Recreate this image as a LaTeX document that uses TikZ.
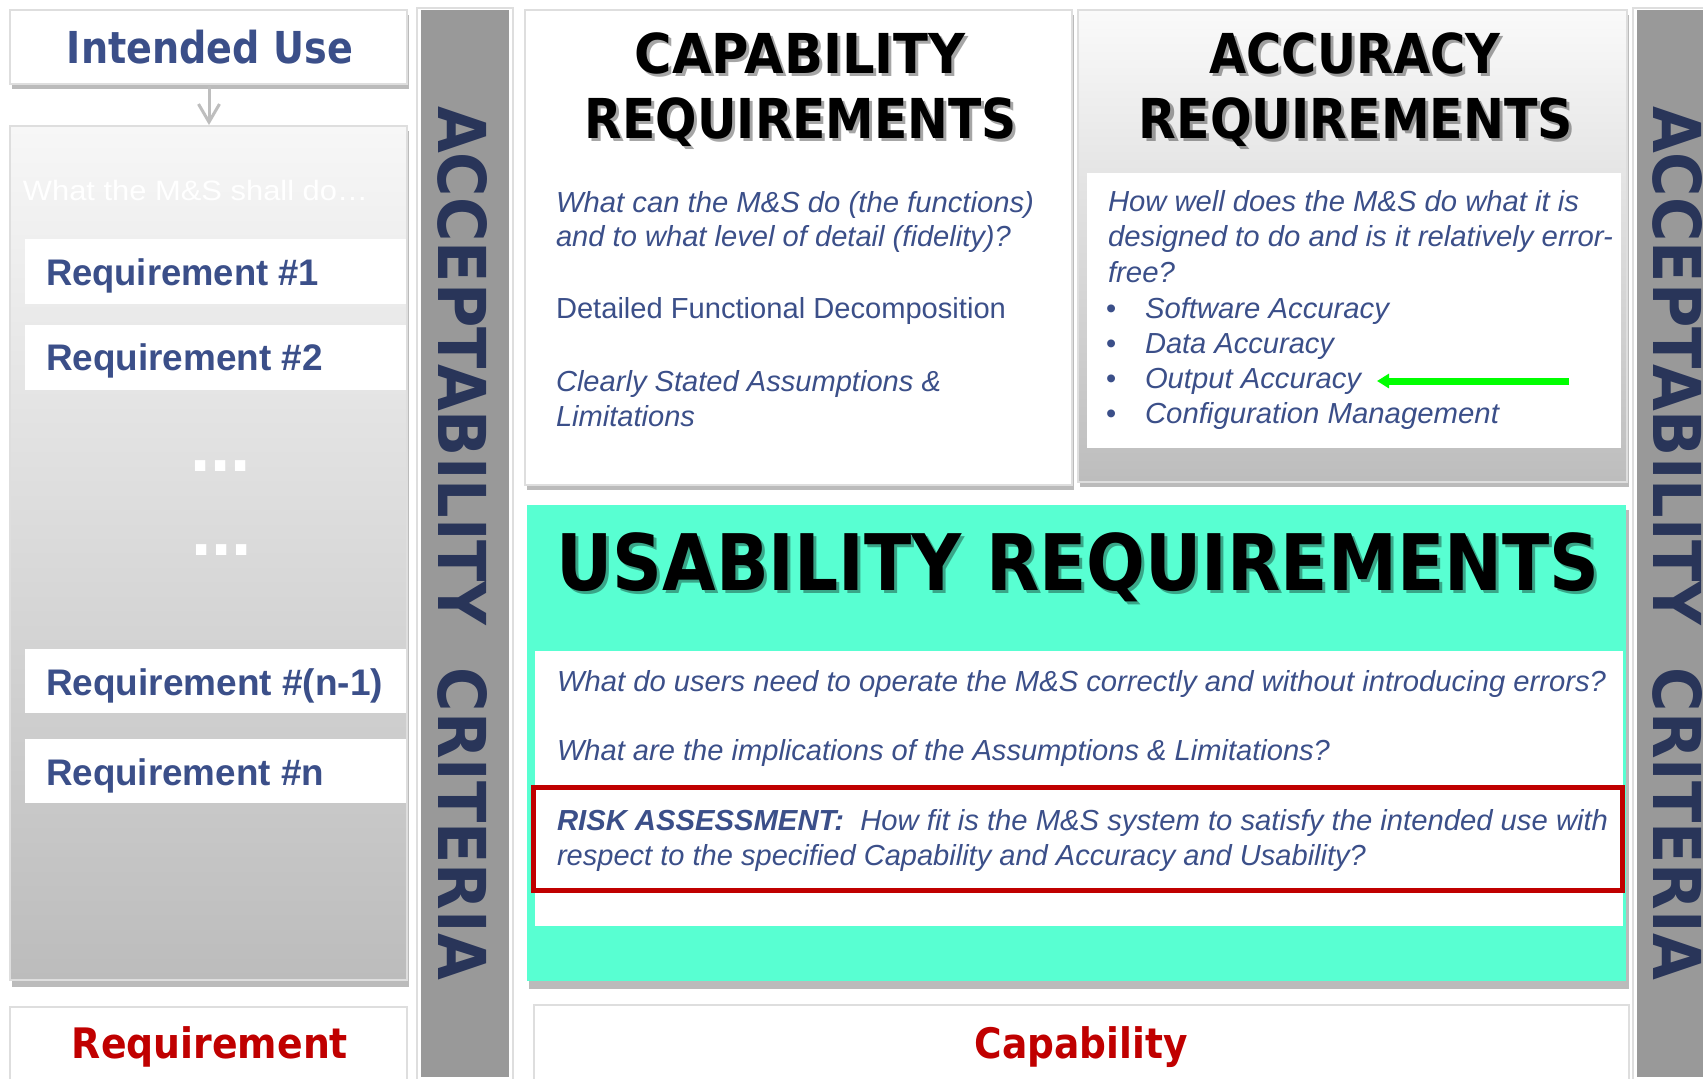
\documentclass[tikz,border=0pt]{standalone}
\usepackage{fontspec}
\usepackage{graphicx}
\setmainfont{Liberation Sans}
\newfontfamily\verd{DejaVu Sans}
\usetikzlibrary{arrows.meta}
\newdimen\unitpx \unitpx=0.5pt
\newcommand{\fitwd}[2]{\resizebox{#1\unitpx}{\height}{#2}}
\definecolor{navy}{RGB}{59,79,137}
\definecolor{darknavy}{RGB}{41,53,89}
\definecolor{tealc}{RGB}{88,255,210}
\definecolor{redc}{RGB}{192,0,0}
\definecolor{bargray}{RGB}{153,153,153}
\definecolor{greenc}{RGB}{0,255,0}
\definecolor{shadowgray}{RGB}{187,187,187}
\definecolor{boxedge}{RGB}{222,222,222}
\definecolor{arrowgray}{RGB}{190,190,190}
\definecolor{panelTop}{RGB}{247,247,247}
\definecolor{panelBot}{RGB}{188,188,188}
\newcommand{\ttl}[6]{%
  \node[t, anchor=base, text=black, opacity=0.35] (#1s) at (#2+3,#3+3) {\verd\bfseries\fontsize{#5}{#5}\selectfont\fitwd{#4}{#6}};
  \node[t, anchor=base, text=black] (#1) at (#2,#3) {\verd\bfseries\fontsize{#5}{#5}\selectfont\fitwd{#4}{#6}};}
\begin{document}
\begin{tikzpicture}[x=0.5pt,y=-0.5pt,
  t/.style={inner sep=0pt, outer sep=0pt},
  body/.style={t, anchor=base west, text=navy, font=\fontsize{14.5}{17.5}\selectfont\itshape},
  bodyup/.style={t, anchor=base west, text=navy, font=\fontsize{14.5}{17.5}\selectfont},
  reqtext/.style={t, anchor=base west, text=navy, font=\bfseries\fontsize{18.5}{20}\selectfont},
  redlabel/.style={t, anchor=base, text=redc, font=\verd\bfseries\fontsize{21}{23}\selectfont},
  vert/.style={t, rotate=-90, text=darknavy, font=\verd\bfseries\fontsize{33}{35}\selectfont},
  whitebox/.style={fill=white, draw=boxedge, line width=1pt},
  shadowbox/.style={fill=shadowgray}
]
\clip (0,0) rectangle (1703,1078);
\fill[white] (0,0) rectangle (1703,1078);

% ---------- left column ----------
\fill[shadowbox] (12,15) rectangle (409,89);
\filldraw[whitebox] (10,10) rectangle (407,84);
\node[t, anchor=base, text=navy, font=\verd\bfseries\fontsize{22}{24}\selectfont] (iu) at (210,63) {\fitwd{286}{Intended Use}};

\fill[shadowbox] (12,131) rectangle (409,987);
\shadedraw[top color=panelTop, bottom color=panelBot, draw=boxedge, line width=1pt] (10,126) rectangle (407,980);
\coordinate (iuS) at (209,86);
\coordinate (panN) at (209,125);
\draw[arrowgray, line width=1.5pt, -{Straight Barb[length=9pt,width=10.5pt]}] (iuS) -- (panN);

\node[t, anchor=base west, text=white, font=\fontsize{14}{16}\selectfont] (shall) at (23,200) {\fitwd{345}{What the M\&S shall do…}};

\fill[white] (25,239) rectangle (406,304);
\fill[white] (25,325) rectangle (406,390);
\fill[white] (25,649) rectangle (406,713);
\fill[white] (25,739) rectangle (406,803);
\node[reqtext] (r1) at (46,285) {\fitwd{273}{Requirement \#1}};
\node[reqtext] (r2) at (46,370) {\fitwd{277}{Requirement \#2}};
\node[reqtext] (r3) at (46,695) {\fitwd{337}{Requirement \#(n-1)}};
\node[reqtext] (r4) at (46,785) {\fitwd{278}{Requirement \#n}};
\node[t, anchor=base west, text=white, font=\bfseries\fontsize{36.5}{38}\selectfont] (dots1) at (190,471) {...};
\node[t, anchor=base west, text=white, font=\bfseries\fontsize{36.5}{38}\selectfont] (dots2) at (191,555) {...};

\filldraw[whitebox] (10,1007) rectangle (407,1090);
\node[redlabel] (reqlbl) at (210,1058) {\fitwd{276}{Requirement}};

% ---------- left bar ----------
\draw[boxedge, line width=1pt] (417,8) rectangle (513,1082);
\fill[bargray] (421,10) rectangle (509,1077);
\node[vert] (acc1) at (463,543) {\fitwd{874}{ACCEPTABILITY\ \ CRITERIA}};

% ---------- capability box ----------
\fill[shadowbox] (527,15) rectangle (1074,490);
\filldraw[whitebox] (525,10) rectangle (1072,485);
\ttl{capt1}{800}{73}{331}{27.5}{CAPABILITY}
\ttl{capt2}{801}{138}{432}{27.5}{REQUIREMENTS}
\node[body] (c1) at (556,212) {\fitwd{478}{What can the M\&S do (the functions)}};
\node[body] (c2) at (556,246) {\fitwd{455}{and to what level of detail (fidelity)?}};
\node[bodyup] (c3) at (556,318) {\fitwd{450}{Detailed Functional Decomposition}};
\node[body] (c4) at (556,391) {\fitwd{385}{Clearly Stated Assumptions \&}};
\node[body] (c5) at (556,426) {\fitwd{139}{Limitations}};

% ---------- accuracy box ----------
\fill[shadowbox] (1080,15) rectangle (1629,487);
\shadedraw[top color=white!98!black, bottom color=black!26, draw=boxedge, line width=1pt] (1078,10) rectangle (1627,482);
\fill[white] (1087,173) rectangle (1621,448);
\ttl{acct1}{1355}{73}{291}{27.5}{ACCURACY}
\ttl{acct2}{1356}{138}{434}{27.5}{REQUIREMENTS}
\node[body] (a1) at (1108,211) {\fitwd{471}{How well does the M\&S do what it is}};
\node[body] (a2) at (1108,246) {\fitwd{505}{designed to do and is it relatively error-}};
\node[body] (a3) at (1108,282) {\fitwd{67}{free?}};
\node[bodyup] (b1) at (1106,318) {\textbullet};
\node[bodyup] (b2) at (1106,353) {\textbullet};
\node[bodyup] (b3) at (1106,388) {\textbullet};
\node[bodyup] (b4) at (1106,423) {\textbullet};
\node[body] (a4) at (1145,318) {\fitwd{244}{Software Accuracy}};
\node[body] (a5) at (1145,353) {\fitwd{189}{Data Accuracy}};
\node[body] (a6) at (1145,388) {\fitwd{216}{Output Accuracy}};
\node[body] (a7) at (1145,423) {\fitwd{354}{Configuration Management}};
\coordinate (ga1) at (1569,381);
\coordinate (ga2) at (1377,381);
\draw[greenc, line width=3.5pt, -{Triangle[length=6pt,width=7pt]}] (ga1) -- (ga2);

% ---------- usability box ----------
\fill[shadowbox] (529,510) rectangle (1629,989);
\fill[tealc] (527,505) rectangle (1626,981);
\fill[white] (535,651) rectangle (1623,926);
\draw[redc, line width=2.5pt] (533,787) rectangle (1622,890);
\ttl{uset}{1078}{590}{1043}{39}{USABILITY REQUIREMENTS}
\node[body] (u1) at (557,691) {\fitwd{1049}{What do users need to operate the M\&S correctly and without introducing errors?}};
\node[body] (u2) at (557,760) {\fitwd{773}{What are the implications of the Assumptions \& Limitations?}};
\node[body] (u3) at (557,830) {\fitwd{1051}{\textbf{RISK ASSESSMENT:}\ \ How fit is the M\&S system to satisfy the intended use with}};
\node[body] (u4) at (557,865) {\fitwd{809}{respect to the specified Capability and Accuracy and Usability?}};

% ---------- bottom capability label ----------
\filldraw[whitebox] (534,1005) rectangle (1629,1090);
\node[redlabel] (caplbl) at (1081,1058) {\fitwd{213}{Capability}};

% ---------- right bar ----------
\draw[boxedge, line width=1pt] (1633,8) rectangle (1728,1082);
\fill[bargray] (1637,10) rectangle (1724,1077);
\node[vert] (acc2) at (1678,543) {\fitwd{874}{ACCEPTABILITY\ \ CRITERIA}};
\end{tikzpicture}
\end{document}
